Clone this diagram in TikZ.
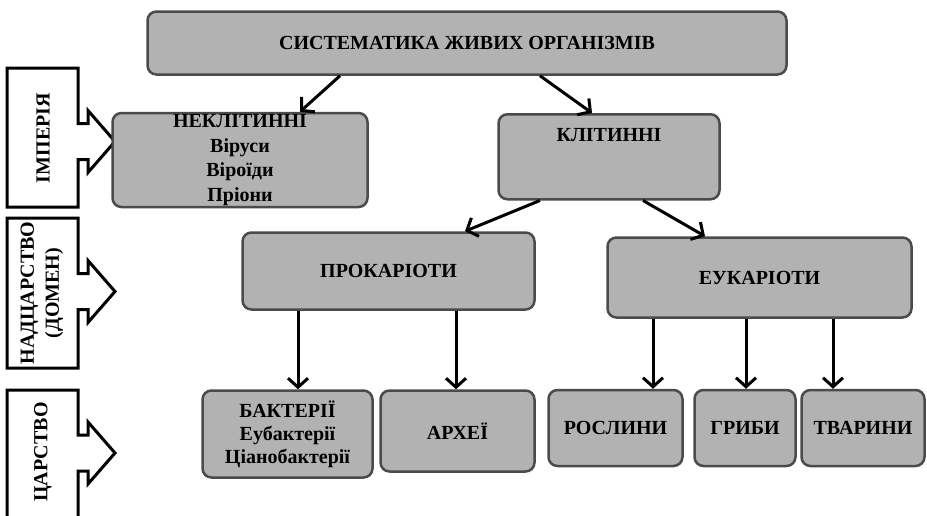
\documentclass[tikz,border=0pt]{standalone}
\usepackage{fontspec}
\setmainfont{Liberation Serif}
\usetikzlibrary{arrows.meta}
\definecolor{boxfill}{RGB}{178,178,178}
\definecolor{boxline}{RGB}{75,75,75}
\newcommand{\fs}{\fontsize{20}{23}\selectfont\bfseries}
\tikzset{
    common/.style={draw=boxline, line width=2.5pt, fill=boxfill, rounded corners=9pt, font=\fs, align=center, inner sep=0pt},
    taxon/.style={common, minimum height=76pt},
    rank/.style={draw=black, line width=3pt, fill=white, line join=miter},
    ranktext/.style={rotate=90, font=\fs, align=center},
    arr/.style={line width=3pt, -{Straight Barb[length=9pt,width=20pt,line width=3pt]}}
}

\begin{document}
\begin{tikzpicture}[x=1pt, y=-1pt]
        \useasboundingbox (0,0) rectangle (927,515);

        % rank panels on the left
        \foreach \top/\bot/\mid in {68/207/141.5, 218/368/291.5, 390/520/453}
            \draw[rank] (7,\top) -- (78,\top) -- (78,\mid-18) -- (88,\mid-18) -- (88,\mid-31)
                -- (115,\mid) -- (88,\mid+31) -- (88,\mid+18) -- (78,\mid+18) -- (78,\bot) -- (7,\bot) -- cycle;
        \node[ranktext] (imperia) at (43,138) {ІМПЕРІЯ};
        \node[ranktext, font=\fontsize{20}{25}\selectfont\bfseries] (domain) at (42,293) {НАДЦАРСТВО\\(ДОМЕН)};
        \node[ranktext] (kingdom) at (43,452) {ЦАРСТВО};

        % taxa
        \node[common, minimum width=639pt, minimum height=63pt] (title) at (467,43) {СИСТЕМАТИКА ЖИВИХ ОРГАНІЗМІВ};
        \node[common, minimum width=255pt, minimum height=94pt, font=\fontsize{20}{24.5}\selectfont\bfseries] (noncell) at (240,160) {НЕКЛІТИННІ\\Віруси\\Віроїди\\Пріони};
        \node[common, anchor=north, minimum width=221pt, inner ysep=14pt, text height=13pt, text depth=44pt] (cell) at (609,113) {КЛІТИННІ};
        \node[taxon, minimum width=292pt, minimum height=77pt] (prok) at (388.5,271) {ПРОКАРІОТИ};
        \node[taxon, minimum width=304pt, minimum height=80pt] (euk) at (759.5,277.5) {ЕУКАРІОТИ};
        \node[taxon, minimum width=170pt, minimum height=87pt] (bact) at (287.5,434) {БАКТЕРІЇ\\Еубактерії\\Ціанобактерії};
        \node[taxon, minimum width=154pt, minimum height=81pt] (arch) at (457.5,431) {АРХЕЇ};
        \node[taxon, minimum width=134pt] (plant) at (615.5,428) {РОСЛИНИ};
        \node[taxon, minimum width=101pt] (fungi) at (745,428) {ГРИБИ};
        \node[taxon, minimum width=123pt] (animal) at (863,428) {ТВАРИНИ};

        % connectors
        \draw[arr] ([xshift=-127pt]title.south) -- ([xshift=60pt]noncell.north);
        \draw[arr] ([xshift=73pt]title.south) -- ([xshift=-17pt]cell.north);
        \draw[arr] ([xshift=-69pt]cell.south) -- ([xshift=76.5pt]prok.north);
        \draw[arr] ([xshift=34pt]cell.south) -- ([xshift=-54.5pt]euk.north);
        \draw[arr] ([xshift=-90.5pt]prok.south) -- ([xshift=-90.5pt]prok.south |- bact.north);
        \draw[arr] ([xshift=67.5pt]prok.south) -- ([xshift=67.5pt]prok.south |- arch.north);
        \draw[arr] ([xshift=-106.5pt]euk.south) -- ([xshift=-106.5pt]euk.south |- plant.north);
        \draw[arr] ([xshift=-13.5pt]euk.south) -- ([xshift=-13.5pt]euk.south |- fungi.north);
        \draw[arr] ([xshift=73.5pt]euk.south) -- ([xshift=73.5pt]euk.south |- animal.north);
\end{tikzpicture}
\end{document}
